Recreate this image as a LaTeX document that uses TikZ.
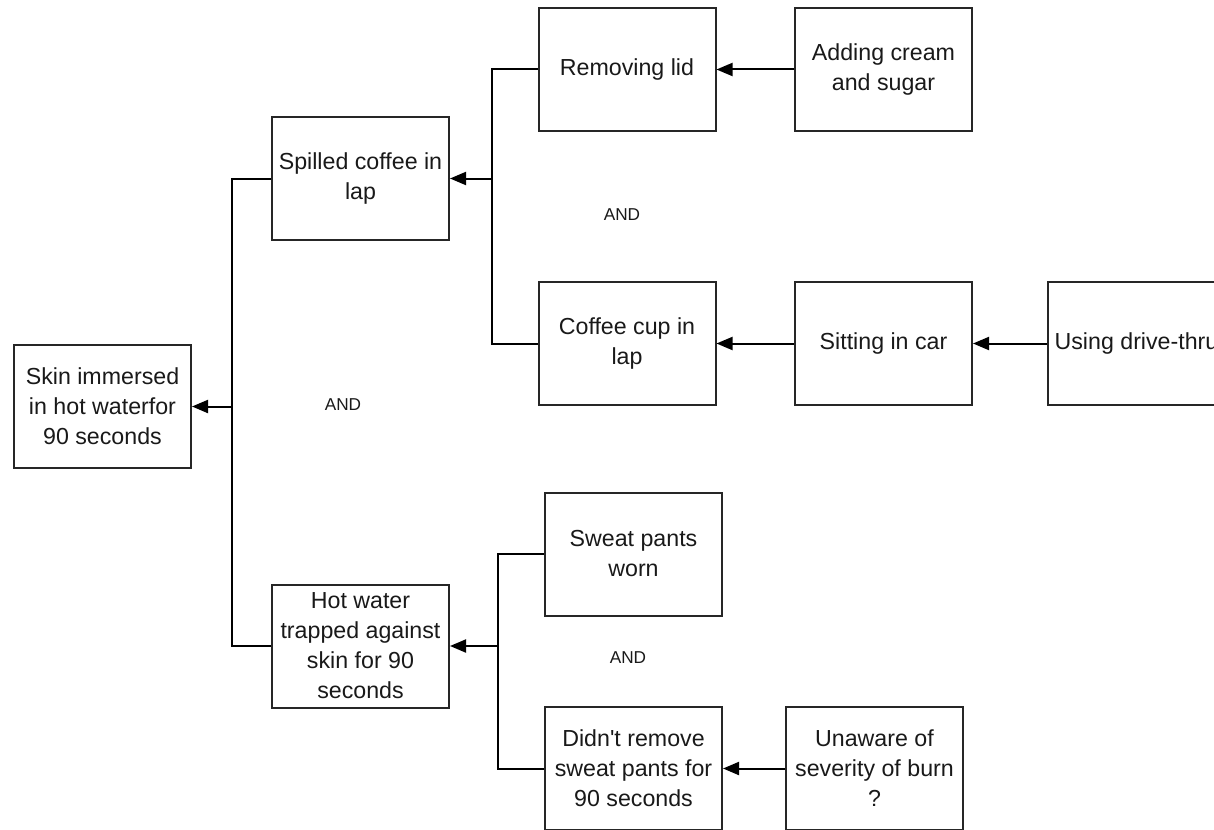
\documentclass[tikz,border=0pt]{standalone}
\usepackage{fontspec}
\setmainfont{Liberation Sans}
\usetikzlibrary{arrows.meta}

\begin{document}
\begin{tikzpicture}[
    x=0.5pt, y=-0.5pt,
    cause/.style={rectangle, draw=black!85, line width=1pt, minimum width=88.5pt, minimum height=61.5pt,
        align=center, inner sep=0pt, font=\fontsize{11.6}{15}\selectfont, text=black!90},
    gate/.style={font=\fontsize{8.6}{10}\selectfont, text=black!90},
    link/.style={line width=1pt, -},
    into/.style={line width=1pt, -{Triangle[length=8pt,width=6.5pt]}}
]
\clip (0,0) rectangle (1214,829);
\useasboundingbox (0,0) rectangle (1214,829);

% Define events
\node[cause] (skin) at (102.5, 406.5) {Skin immersed\\in hot waterfor\\90 seconds};
\node[cause] (spill) at (360.5, 178.5) {Spilled coffee in\\lap};
\node[cause] (trap) at (360.5, 646) {Hot water\\trapped against\\skin for 90\\seconds};
\node[cause] (lid) at (627, 69.5) {Removing lid};
\node[cause] (cream) at (883.5, 69.5) {Adding cream\\and sugar};
\node[cause] (cup) at (627, 343.5) {Coffee cup in\\lap};
\node[cause] (car) at (883.5, 343.5) {Sitting in car};
\node[cause] (drive) at (1136.5, 343.5) {Using drive-thru};
\node[cause] (pants) at (633.5, 554) {Sweat pants\\worn};
\node[cause] (keep) at (633.5, 768.5) {Didn\textquotesingle t remove\\sweat pants for\\90 seconds};
\node[cause] (burn) at (874.5, 768.5) {Unaware of\\severity of burn\\?};

% Define gates
\node[gate] (and1) at (343, 405) {AND};
\node[gate] (and2) at (622, 215) {AND};
\node[gate] (and3) at (628, 658) {AND};

% Define junctions
\coordinate (j1) at (232, 406.5);
\coordinate (j2) at (492, 178.5);
\coordinate (j3) at (498, 646);

% Define edges
\draw[into] (j1) -- (skin);
\draw[link] (spill.west) -| (j1) |- (trap.west);
\draw[into] (j2) -- (spill);
\draw[link] (lid.west) -| (j2) |- (cup.west);
\draw[into] (j3) -- (trap);
\draw[link] (pants.west) -| (j3) |- (keep.west);
\draw[into] (cream) -- (lid);
\draw[into] (car) -- (cup);
\draw[into] (drive) -- (car);
\draw[into] (burn) -- (keep);

\end{tikzpicture}
\end{document}
